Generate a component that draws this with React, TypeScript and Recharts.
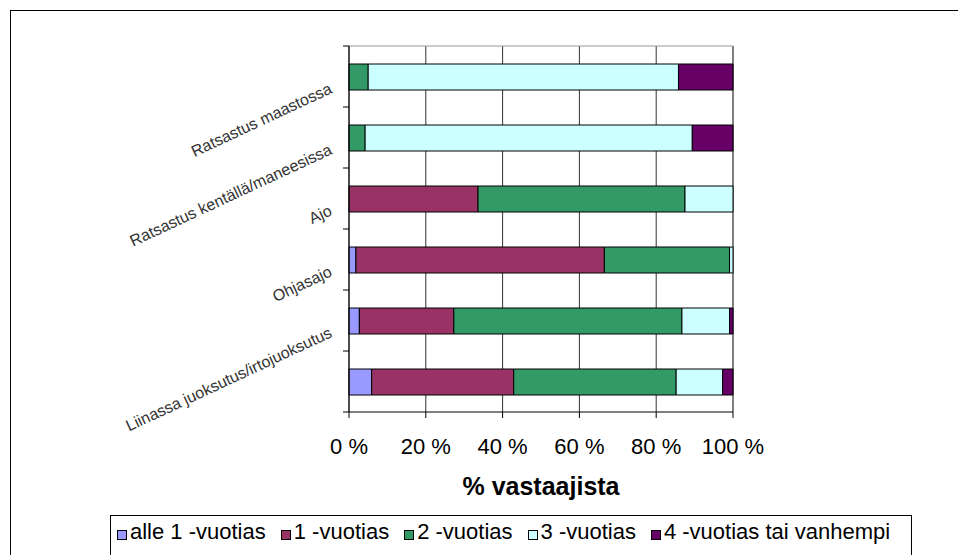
import { BarChart, Bar, XAxis, YAxis, CartesianGrid } from 'recharts'

const categories = [
  'Ratsastus maastossa',
  'Ratsastus kentällä/maneesissa',
  'Ajo',
  'Ohjasajo',
  'Liinassa juoksutus/irtojuoksutus',
  '',
]

const seriesNames = ['alle 1 -vuotias', '1 -vuotias', '2 -vuotias', '3 -vuotias', '4 -vuotias tai vanhempi']
const seriesColors = ['#9999FF', '#993366', '#339966', '#CCFFFF', '#660066']

const alle1 = [0, 0, 0, 1.8, 2.7, 5.9]
const vuotias1 = [0, 0, 33.6, 64.7, 24.6, 37]
const vuotias2 = [5, 4.2, 53.9, 32.6, 59.4, 42.3]
const vuotias3 = [80.8, 85.2, 12.5, 0.9, 12.4, 12.1]
const vuotias4 = [14.2, 10.6, 0, 0, 0.9, 2.7]

const xTicks = [0, 20, 40, 60, 80, 100]

const seriesValues = [alle1, vuotias1, vuotias2, vuotias3, vuotias4]
const keys = ['s0', 's1', 's2', 's3', 's4']

const data = categories.map((name, i) => {
  const row: Record<string, any> = { name: name || ' ' }
  keys.forEach((k, j) => { row[k] = seriesValues[j][i] })
  return row
})

const FONT = '"Liberation Sans", Arial, sans-serif'
const PLOT_LEFT = 349
const PLOT_RIGHT = 733
const PLOT_TOP = 46
const PLOT_BOTTOM = 412
const BAND = (PLOT_BOTTOM - PLOT_TOP) / categories.length

function CategoryTick(props: any) {
  const { x, y, payload, index } = props
  const lx = x - 16
  const ly = y + 16
  return (
    <g>
      <line x1={PLOT_LEFT - 6} x2={PLOT_LEFT} y1={y - BAND / 2} y2={y - BAND / 2} stroke="#000" />
      {index === categories.length - 1 && (
        <line x1={PLOT_LEFT - 6} x2={PLOT_LEFT} y1={y + BAND / 2} y2={y + BAND / 2} stroke="#000" />
      )}
      <text
        x={lx}
        y={ly}
        textAnchor="end"
        fontSize={16}
        fontFamily={FONT}
        fill="#333"
        transform={`rotate(-25, ${lx}, ${ly})`}
      >
        {payload.value.trim()}
      </text>
    </g>
  )
}

export default function App() {
  return (
    <div style={{ position: 'fixed', left: 0, top: 0, width: 958, height: 555, overflow: 'hidden', background: '#fff', fontFamily: FONT }}>
      <div style={{ position: 'absolute', left: 10, top: 10, width: 980, height: 580, border: '1px solid #000' }} />
      <div style={{ position: 'absolute', left: 0, top: 0 }}>
        <BarChart
          width={958}
          height={555}
          data={data}
          layout="vertical"
          margin={{ top: PLOT_TOP, right: 958 - PLOT_RIGHT, bottom: 0, left: 0 }}
          barSize={26}
        >
          <CartesianGrid horizontal={false} stroke="#333" />
          <CartesianGrid vertical={false} horizontalPoints={[PLOT_TOP]} stroke="#999" />
          <CartesianGrid horizontal={false} verticalPoints={[PLOT_RIGHT]} stroke="#999" />
          <XAxis
            type="number"
            domain={[0, 100]}
            ticks={xTicks}
            tickFormatter={(v) => `${v} %`}
            height={555 - PLOT_BOTTOM}
            tick={{ fontSize: 22, fill: '#000', fontFamily: FONT }}
            tickSize={6}
            tickMargin={20}
            axisLine={{ stroke: '#000' }}
            tickLine={{ stroke: '#000' }}
          />
          <YAxis
            type="category"
            dataKey="name"
            width={PLOT_LEFT}
            axisLine={{ stroke: '#000' }}
            tickLine={false}
            tickSize={0}
            tickMargin={0}
            interval={0}
            tick={<CategoryTick />}
          />
          {keys.map((k, j) => (
            <Bar
              key={k}
              dataKey={k}
              name={seriesNames[j]}
              stackId="a"
              fill={seriesColors[j]}
              stroke="#000"
              strokeWidth={1}
              isAnimationActive={false}
            />
          ))}
        </BarChart>
      </div>
      <div
        style={{
          position: 'absolute', left: PLOT_LEFT, width: PLOT_RIGHT - PLOT_LEFT, top: 474,
          textAlign: 'center', fontSize: 25, lineHeight: '25px', fontWeight: 'bold', color: '#000',
        }}
      >
        % vastaajista
      </div>
      <div style={{ position: 'absolute', left: 110, top: 515, width: 800, height: 60, border: '1px solid #000' }} />
      <div
        style={{
          position: 'absolute', left: 117, top: 521, height: 22, display: 'flex', alignItems: 'center',
          fontSize: 22, lineHeight: '22px', color: '#000', whiteSpace: 'nowrap',
        }}
      >
        {seriesNames.map((n, j) => (
          <div key={n} style={{ display: 'flex', alignItems: 'center', marginRight: 15 }}>
            <span
              style={{
                display: 'inline-block', width: 10, height: 10, boxSizing: 'border-box',
                background: seriesColors[j], border: '1px solid #000', marginRight: 3, marginTop: 5,
              }}
            />
            <span>{n}</span>
          </div>
        ))}
      </div>
    </div>
  )
}
